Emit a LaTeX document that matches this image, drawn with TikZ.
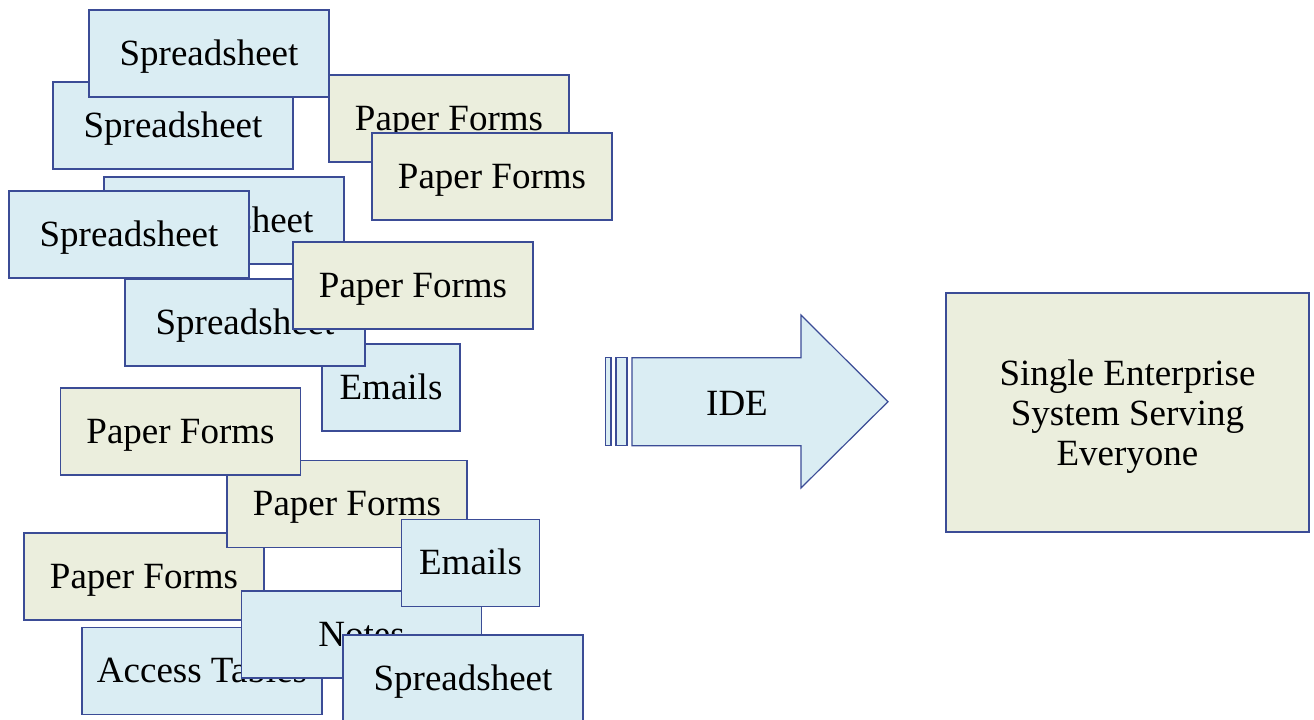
\documentclass[tikz,border=0pt]{standalone}
\usepackage{fontspec}
\setmainfont{Liberation Serif}

\definecolor{edgeblue}{HTML}{3B4C96}
\definecolor{sheetblue}{HTML}{DAEDF3}
\definecolor{formgreen}{HTML}{EBEEDD}

\begin{document}
\begin{tikzpicture}[
    x=0.5pt, y=-0.5pt,
    font=\fontsize{18.5}{20}\selectfont,
    card/.style={draw=edgeblue, line width=0.6pt, inner sep=0pt,
        minimum width=120pt, minimum height=43.5pt, align=center,
        text height=12.5pt, text depth=1pt},
    bluecard/.style={card, fill=sheetblue},
    greencard/.style={card, fill=formgreen},
    mailcard/.style={bluecard, minimum width=69pt},
]
% page frame (pixel units)
\useasboundingbox (0,0) rectangle (1314,719);

% Scattered sources, listed back to front
\foreach \nm/\cx/\cy/\kind/\txt in {
    sp2/173/125.5/bluecard/Spreadsheet,
    sp1/209/53.5/bluecard/Spreadsheet,
    pf1/449/118.5/greencard/Paper Forms,
    pf2/492/176.5/greencard/Paper Forms,
    sp3/224/220.5/bluecard/Spreadsheet,
    sp4/129/234.5/bluecard/Spreadsheet,
    em1/391/387.5/mailcard/Emails,
    sp5/245/322.5/bluecard/Spreadsheet,
    pf3/413/285.5/greencard/Paper Forms,
    pf6/144/576.5/greencard/Paper Forms,
    pf5/347/504/greencard/Paper Forms,
    pf4/180.5/431.5/greencard/Paper Forms,
    at1/202/671/bluecard/Access Tables,
    nt1/361.5/634.5/bluecard/Notes,
    em2/470.5/563/mailcard/Emails,
    sp6/463/678.5/bluecard/Spreadsheet} {
    \node[\kind] (\nm) at (\cx,\cy) {\txt};
}

% Striped block arrow
\draw[edgeblue, line width=0.6pt, fill=sheetblue] (605.5,357.7) rectangle (611,445.7);
\draw[edgeblue, line width=0.6pt, fill=sheetblue] (616,357.7) rectangle (627,445.7);
\draw[edgeblue, line width=0.6pt, fill=sheetblue]
    (632,357.7) -- (801,357.7) -- (801,315) -- (888,401.7)
    -- (801,488) -- (801,445.7) -- (632,445.7) -- cycle;
\node (ide) at (737,403) {IDE};

% Target system
\node[greencard, minimum width=181.5pt, minimum height=119.5pt,
      text height=, text depth=0pt] (ses) at (1127.5,412.5)
    {Single Enterprise\\System Serving\\Everyone};

\end{tikzpicture}
\end{document}
